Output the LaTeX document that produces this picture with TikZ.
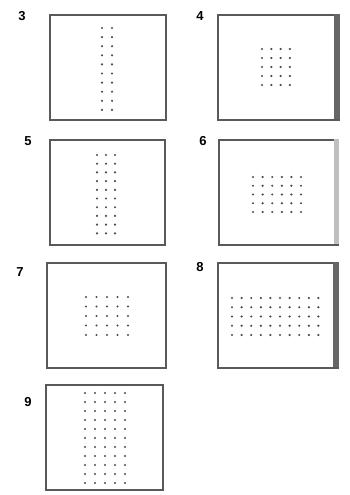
\documentclass[tikz,border=0pt]{standalone}
\usepackage{fontspec}
\setmainfont{Liberation Sans}
\usepackage{tikz}
\usetikzlibrary{positioning}

% grid of dots: x0, y0, dx, dy, last column, last row
\newcommand{\dotgrid}[6]{%
  \foreach \i in {0,...,#5}{\foreach \j in {0,...,#6}{%
    \fill[gridpt] ({#1+#3*\i},{#2+#4*\j}) circle (1.2);}}}

\begin{document}
\begin{tikzpicture}[
  x=1pt, y=-1pt,
  every node/.style={inner sep=0pt},
  panel/.style={draw=black!65, line width=1.7pt, minimum height=105pt},
  num/.style={font=\fontsize{13}{13}\selectfont\bfseries, anchor=north},
  gridpt/.style={black!70},
  sidebar/.style={fill=black!60}
]
\useasboundingbox (0,0) rectangle (350,495);
\fill[white] (0,0) rectangle (350,495);

\node[panel, minimum width=116pt] (p3) at (108,67.5) {};
\node[panel, minimum width=121pt] (p4) at (278.5,67.5) {};
\node[panel, minimum width=115pt] (p5) at (107.5,192.5) {};
\node[panel, minimum width=119pt] (p6) at (278.5,192.5) {};
\node[panel, minimum width=119pt] (p7) at (106.5,315.5) {};
\node[panel, minimum width=120pt] (p8) at (278,315.5) {};
\node[panel, minimum width=117pt] (p9) at (104.5,437.5) {};

\fill[sidebar] (p4.north east) rectangle ++(-6,105);
\fill[sidebar, fill=black!25] (p6.north east) rectangle ++(-5,105);
\fill[sidebar] (p8.north east) rectangle ++(-6,105);

\node[num] (n3) at (22,11) {3};
\node[num] (n4) at (200,11) {4};
\node[num] (n5) at (28,136) {5};
\node[num] (n6) at (203,136) {6};
\node[num] (n7) at (20,267) {7};
\node[num] (n8) at (200,262) {8};
\node[num] (n9) at (28,397) {9};

\dotgrid{102}{28}{10}{9.1}{1}{9}
\dotgrid{262}{49}{9.3}{9}{3}{4}
\dotgrid{97}{155}{9}{8.7}{2}{9}
\dotgrid{253}{177}{9.6}{8.75}{5}{4}
\dotgrid{86}{297}{10.5}{9.5}{4}{4}
\dotgrid{232}{298}{9.6}{9.25}{9}{4}
\dotgrid{85}{393}{10}{9}{4}{10}
\end{tikzpicture}
\end{document}
